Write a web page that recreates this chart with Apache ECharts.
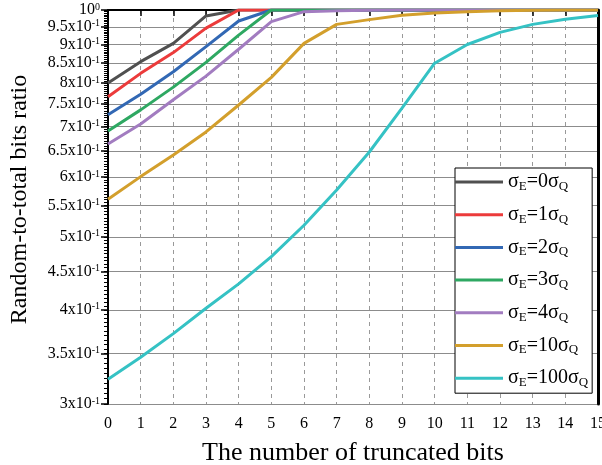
<!DOCTYPE html>
<html>
<head>
<meta charset="utf-8">
<title>Random-to-total bits ratio</title>
<script src="https://cdn.jsdelivr.net/npm/echarts@6/dist/echarts.min.js"></script>
<style>
  html, body { margin: 0; padding: 0; background: #fff; }
  #main { width: 602px; height: 465px; }
</style>
</head>
<body>
<div id="main"></div>
<script>
// x: number of truncated bits
const bits = [0, 1, 2, 3, 4, 5, 6, 7, 8, 9, 10, 11, 12, 13, 14, 15]
// sigma_E multiples of sigma_Q, one per curve
const sigmaMul = ['0', '1', '2', '3', '4', '10', '100']
// ratio values
const ratioS0 = [0.800, 0.854, 0.903, 0.982, 1, 1, 1, 1, 1, 1, 1, 1, 1, 1, 1, 1]
const ratioS1 = [0.767, 0.824, 0.878, 0.946, 1, 1, 1, 1, 1, 1, 1, 1, 1, 1, 1, 1]
const ratioS2 = [0.726, 0.773, 0.828, 0.894, 0.967, 1, 1, 1, 1, 1, 1, 1, 1, 1, 1, 1]
const ratioS3 = [0.691, 0.737, 0.790, 0.852, 0.926, 1, 1, 1, 1, 1, 1, 1, 1, 1, 1, 1]
const ratioS4 = [0.664, 0.706, 0.760, 0.817, 0.887, 0.965, 0.995, 0.998, 0.999, 1, 1, 1, 1, 1, 1, 1]
const ratioS10 = [0.561, 0.601, 0.642, 0.689, 0.748, 0.814, 0.903, 0.957, 0.971, 0.984, 0.991, 0.995, 0.998, 0.999, 1, 1]
const ratioS100 = [0.3236, 0.346, 0.372, 0.402, 0.433, 0.4706, 0.518, 0.577, 0.648, 0.741, 0.850, 0.900, 0.934, 0.957, 0.972, 0.983]
// labelled y ticks
const yMajor = [0.3, 0.35, 0.4, 0.45, 0.5, 0.55, 0.6, 0.65, 0.7, 0.75, 0.8, 0.85, 0.9, 0.95, 1]

const allRatios = [ratioS0, ratioS1, ratioS2, ratioS3, ratioS4, ratioS10, ratioS100]
const colors = ['#505050', '#ec3b3b', '#3268b4', '#2ea862', '#a27cc0', '#d39f2c', '#35c2c4']

const FONT = 'Liberation Serif'
const lg = v => Math.log10(v)

// minor ticks every 0.005
const yMinor = []
for (let k = 300; k <= 1000; k += 5) {
  yMinor.push(lg(k / 1000))
}

const chart = echarts.init(document.getElementById('main'))

// 9.5x10^-1 style labels
const yLabel = (val) => {
  const v = Math.pow(10, val)
  if (Math.abs(v - 1) < 1e-6) return '{b|10}{s|0}'
  const m = Math.round(v * 100) / 10
  return '{b|' + m + 'x10}{s|-1}'
}

const seriesList = allRatios.map((arr, i) => ({
  name: 's' + sigmaMul[i],
  type: 'line',
  symbol: 'none',
  color: colors[i],
  lineStyle: { width: 3, color: colors[i] },
  data: bits.map((b, j) => [b, lg(arr[j])])
}))

const option = {
  animation: false,
  backgroundColor: '#fff',
  grid: { left: 108, right: 4, top: 10, bottom: 61, containLabel: false, outerBoundsMode: 'none' },
  legend: {
    orient: 'vertical',
    left: 455,
    top: 168,
    padding: [4, 4, 4, 0],
    icon: 'rect',
    itemWidth: 48,
    itemHeight: 3,
    itemGap: 11.7,
    selectedMode: false,
    backgroundColor: '#fff',
    borderColor: '#000',
    borderWidth: 1,
    borderRadius: 0,
    data: sigmaMul.map(s => 's' + s),
    formatter: (name) => {
      const k = name.slice(1)
      return '{n|σ}{s|E}{n|=' + k + 'σ}{s|Q}'
    },
    textStyle: {
      color: '#000',
      fontFamily: FONT,
      rich: {
        n: { fontSize: 20, fontFamily: FONT, color: '#000', lineHeight: 22 },
        s: { fontSize: 13, fontFamily: FONT, color: '#000', lineHeight: 11, verticalAlign: 'bottom' }
      }
    }
  },
  xAxis: [
    {
      type: 'value',
      position: 'bottom',
      min: 0,
      max: 15,
      interval: 1,
      name: 'The number of truncated bits',
      nameLocation: 'middle',
      nameGap: 36,
      nameTextStyle: { fontFamily: FONT, fontSize: 26, color: '#000' },
      axisLine: { lineStyle: { color: '#000', width: 2 } },
      axisTick: { length: 6, lineStyle: { color: '#000', width: 1.5 } },
      axisLabel: { fontFamily: FONT, fontSize: 16, color: '#000', margin: 12 },
      splitLine: { show: true, lineStyle: { color: '#999', type: [4, 4], width: 1 } }
    },
    {
      type: 'value',
      position: 'top',
      min: 0,
      max: 15,
      axisLine: { lineStyle: { color: '#000', width: 1.5 } },
      axisTick: { show: false },
      axisLabel: { show: false },
      splitLine: { show: false }
    }
  ],
  yAxis: [
    {
      type: 'value',
      position: 'left',
      min: lg(0.3),
      max: 0,
      name: 'Random-to-total bits ratio',
      nameLocation: 'middle',
      nameGap: 76,
      nameTextStyle: { fontFamily: FONT, fontSize: 24, color: '#000', padding: [0, 0, 0, 15] },
      axisLine: { lineStyle: { color: '#000', width: 2 } },
      axisTick: { length: 7, customValues: yMajor.map(lg), lineStyle: { color: '#000', width: 1.5 } },
      axisLabel: {
        customValues: yMajor.map(lg),
        margin: 8,
        hideOverlap: false,
        showMaxLabel: true,
        showMinLabel: true,
        formatter: yLabel,
        rich: {
          b: { fontSize: 16, fontFamily: FONT, color: '#000', lineHeight: 16 },
          s: { fontSize: 10, fontFamily: FONT, color: '#000', lineHeight: 8, verticalAlign: 'top' }
        }
      },
      splitLine: { show: true, lineStyle: { color: '#8c8c8c', width: 1 } }
    },
    {
      type: 'value',
      position: 'left',
      min: lg(0.3),
      max: 0,
      axisLine: { show: false },
      axisTick: { length: 4, customValues: yMinor, lineStyle: { color: '#000', width: 1 } },
      axisLabel: { show: false },
      splitLine: { show: false }
    },
    {
      type: 'value',
      position: 'right',
      min: lg(0.3),
      max: 0,
      axisLine: { lineStyle: { color: '#000', width: 3 } },
      axisTick: { show: false },
      axisLabel: { show: false },
      splitLine: { show: false }
    }
  ],
  series: seriesList
}

chart.setOption(option)
</script>
</body>
</html>
